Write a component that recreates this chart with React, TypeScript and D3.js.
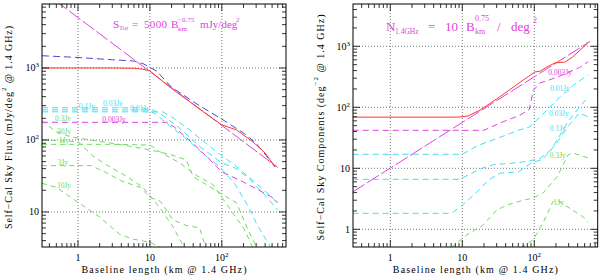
import * as d3 from "d3";

type Pt = [number, number];

// ---- left panel: self-cal sky flux (mJy/deg^2) vs baseline (km) ----
const fluxLaw: Pt[] = [[0.316, 11900], [600, 41.5]];
const fluxTotal: Pt[] = [[0.316, 1000], [3, 1000], [6, 990], [8, 960], [10, 910], [20, 520], [50, 265], [100, 162], [160, 138], [270, 94], [400, 66], [550, 42]];
const fluxBlue: Pt[] = [[0.316, 1480], [1, 1400], [3, 1300], [6, 1250], [8, 1150], [12.5, 900], [20, 540], [50, 295], [100, 195], [200, 125], [300, 90], [500, 48], [600, 38]];
const flux0003: Pt[] = [[0.316, 176], [17, 176], [22, 150], [30, 115], [50, 72], [100, 36], [200, 26], [300, 21], [500, 16], [600, 13.5]];
const flux001: Pt[] = [[0.316, 246], [15, 246], [20, 210], [35, 140], [60, 90], [100, 60], [150, 45], [200, 35], [300, 25], [500, 16], [600, 13]];
const flux003: Pt[] = [[0.316, 262], [11, 262], [15, 220], [25, 150], [50, 80], [100, 48], [160, 40], [250, 28], [400, 17], [600, 10.6]];
const flux01: Pt[] = [[0.316, 280], [8, 280], [12, 230], [20, 150], [30, 110], [60, 60], [94, 42], [150, 25], [250, 10.6], [300, 7], [480, 3.2]];
const flux03: Pt[] = [[0.316, 185], [0.5, 130], [0.8, 110], [1.5, 100], [3, 90], [6, 80], [12, 70], [20, 62], [32, 53], [40, 31], [94, 18.4], [161, 13.3], [222, 6.2], [306, 3.2]];
const flux1: Pt[] = [[0.316, 87], [3, 87], [10, 85], [15, 65], [26, 48], [45, 32], [75, 24], [142, 9.7], [200, 6], [270, 3.2]];
const flux3: Pt[] = [[0.316, 44], [1.5, 44], [2.5, 35], [4, 27], [7.3, 22], [10, 16], [14, 14], [21, 7.7], [32, 6.5], [49, 6], [60, 3.2]];
const flux10: Pt[] = [[0.316, 25], [0.5, 22], [1.07, 13], [2, 8.5], [3.8, 4.9], [5.8, 4.2], [10, 3.8], [14, 3.2]];
const flux30: Pt[] = [[0.316, 100], [1, 95], [1.6, 60], [2.5, 45], [4.8, 31], [8, 22], [13.8, 11.4], [21, 6.2], [30, 3.2]];

// ---- right panel: self-cal sky components (deg^-2) vs baseline (km) ----
const countLaw: Pt[] = [[0.3, 4.1], [600, 1210]];
const countTotal: Pt[] = [[0.3, 69], [9, 69], [12, 72], [17.6, 90], [33, 148], [70, 280], [102, 380], [120, 390], [150, 458], [194, 535], [266, 550], [342, 670], [560, 1150]];
const count0003: Pt[] = [[0.3, 42], [20, 42], [33, 55], [63, 74], [85, 92], [97, 190], [120, 250], [206, 310], [425, 450], [560, 560]];
const count001: Pt[] = [[0.3, 17], [10, 17], [17, 24], [33, 32], [60, 42], [87, 48], [150, 90], [227, 148], [350, 230], [560, 340]];
const count003: Pt[] = [[0.3, 6.6], [9, 6.6], [12, 7.7], [17, 9.6], [27, 11.5], [45, 12], [80, 13], [120, 14.5], [170, 20], [207, 29], [300, 60], [420, 100], [560, 147]];
const count01: Pt[] = [[0.3, 1.83], [7, 1.83], [9.3, 2.3], [12, 3], [17, 4.4], [23, 6.4], [33, 8.3], [60, 8.7], [90, 12.2], [130, 14], [200, 25], [300, 50], [420, 80], [560, 70]];
const count03: Pt[] = [[7, 0.5], [11.6, 0.81], [19.4, 1.17], [30, 2.07], [42, 2.5], [70, 3], [96, 3.25], [131, 3.9], [207, 7.2], [250, 11.3], [294, 16.5], [334, 18], [590, 14.5]];
const count1: Pt[] = [[65, 0.5], [96, 0.67], [131, 1.25], [181, 2.8], [210, 3], [313, 2.2], [478, 1.6], [560, 1.3]];

// label text and the data point it is centred on
const fluxLabels: [string, string, number, number][] = [
  ["0.1Jy", "cyan", 1.33, 296],
  ["0.03Jy", "cyan", 3.06, 326],
  ["0.01Jy", "cyan", 7.26, 278],
  ["0.003Jy", "mag", 3.17, 195],
  ["0.3Jy", "green", 0.62, 202],
  ["30Jy", "green", 0.64, 132],
  ["1Jy", "green", 0.64, 100],
  ["3Jy", "green", 0.62, 49],
  ["10Jy", "green", 0.64, 23.7],
];
const countLabels: [string, string, number, number][] = [
  ["0.003Jy", "mag", 228, 379],
  ["0.01Jy", "cyan", 228, 207],
  ["0.03Jy", "cyan", 219, 80.6],
  ["0.1Jy", "cyan", 212, 45.6],
  ["0.3Jy", "green", 212, 16.5],
  ["1Jy", "green", 219, 2.8],
];

const C: Record<string, string> = {
  red: "#ff3a2a",
  blue: "#4848dc",
  mag: "#e040e0",
  cyan: "#40e0f0",
  green: "#6cdc5c",
};
const FONT = "Liberation Serif, DejaVu Serif, serif";

interface Series { pts: Pt[]; color: string; dash?: string }

interface PanelProps {
  id: string;
  left: number; right: number; top: number; bottom: number;
  xDomain: [number, number]; yDomain: [number, number];
  series: Series[];
  labels: [string, string, number, number][];
  yTitle: React.ReactNode; yTitleX: number; yTitleLen: number;
}

const isMajor = (t: number) => Math.abs(Math.log10(t) - Math.round(Math.log10(t))) < 1e-6;

function powLabel(t: number) {
  const e = Math.round(Math.log10(t));
  if (e === 0) return <>1</>;
  if (e === 1) return <>10</>;
  return <>10<tspan dy={-4} fontSize={7}>{e}</tspan></>;
}

function Panel(p: PanelProps) {
  const x = d3.scaleLog().domain(p.xDomain).range([p.left, p.right]);
  const y = d3.scaleLog().domain(p.yDomain).range([p.bottom, p.top]);
  const line = d3.line<Pt>().x((d) => x(d[0])).y((d) => y(d[1]));
  const xt = x.ticks();
  const yt = y.ticks();
  const ticks: JSX.Element[] = [];
  xt.forEach((t, i) => {
    const L = isMajor(t) ? 7 : 4;
    const xx = x(t);
    ticks.push(<line key={"xb" + i} x1={xx} x2={xx} y1={p.bottom} y2={p.bottom - L} />);
    ticks.push(<line key={"xt" + i} x1={xx} x2={xx} y1={p.top} y2={p.top + L} />);
  });
  yt.forEach((t, i) => {
    const L = isMajor(t) ? 7 : 4;
    const yy = y(t);
    ticks.push(<line key={"yl" + i} y1={yy} y2={yy} x1={p.left} x2={p.left + L} />);
    ticks.push(<line key={"yr" + i} y1={yy} y2={yy} x1={p.right} x2={p.right - L} />);
  });
  const xMaj = xt.filter(isMajor);
  const yMaj = yt.filter(isMajor);
  const cx = (p.left + p.right) / 2;
  return (
    <g>
      <defs>
        <clipPath id={p.id}>
          <rect x={p.left} y={p.top} width={p.right - p.left} height={p.bottom - p.top} />
        </clipPath>
      </defs>
      <g stroke="#666" strokeWidth={0.9} strokeDasharray="1,2">
        {xMaj.map((t) => (
          <line key={"gx" + t} x1={x(t)} x2={x(t)} y1={p.top} y2={p.bottom} />
        ))}
        {yMaj.map((t) => (
          <line key={"gy" + t} y1={y(t)} y2={y(t)} x1={p.left} x2={p.right} />
        ))}
      </g>
      <g clipPath={`url(#${p.id})`} fill="none">
        {p.series.map((s, i) => (
          <path key={i} d={line(s.pts) ?? ""} stroke={s.color} strokeWidth={1} strokeDasharray={s.dash} />
        ))}
      </g>
      <g fontFamily={FONT} fontSize={7.5} textAnchor="middle">
        {p.labels.map(([txt, c, b, v], i) => (
          <text key={i} x={x(b)} y={y(v)} dy="0.35em" fill={C[c]}>{txt}</text>
        ))}
      </g>
      <rect x={p.left} y={p.top} width={p.right - p.left} height={p.bottom - p.top} fill="none" stroke="#000" strokeWidth={1} />
      <g stroke="#000" strokeWidth={0.8}>{ticks}</g>
      <g fontFamily={FONT} fontSize={10} fill="#000">
        {xMaj.map((t) => (
          <text key={"lx" + t} x={x(t)} y={261} textAnchor="middle">{powLabel(t)}</text>
        ))}
        {yMaj.map((t) => (
          <text key={"ly" + t} x={p.left - 3} y={y(t)} dy="0.35em" textAnchor="end">{powLabel(t)}</text>
        ))}
        <text x={cx} y={273} textAnchor="middle" textLength={165} lengthAdjust="spacing">
          Baseline length (km @ 1.4 GHz)
        </text>
        <text
          transform={`translate(${p.yTitleX},${(p.top + p.bottom) / 2 + 2}) rotate(-90)`}
          textAnchor="middle"
          dominantBaseline="central"
          textLength={p.yTitleLen}
          lengthAdjust="spacing"
        >
          {p.yTitle}
        </text>
      </g>
    </g>
  );
}

export default function App() {
  const fluxSeries: Series[] = [
    { pts: flux10, color: C.green, dash: "5,4" },
    { pts: flux3, color: C.green, dash: "5,4" },
    { pts: flux30, color: C.green, dash: "5,4" },
    { pts: flux1, color: C.green, dash: "5,4" },
    { pts: flux03, color: C.green, dash: "5,4" },
    { pts: flux01, color: C.cyan, dash: "6,4" },
    { pts: flux003, color: C.cyan, dash: "6,4" },
    { pts: flux001, color: C.cyan, dash: "6,4" },
    { pts: flux0003, color: C.mag, dash: "6,4" },
    { pts: fluxLaw, color: C.mag, dash: "14,3" },
    { pts: fluxBlue, color: C.blue, dash: "7,4" },
    { pts: fluxTotal, color: C.red },
  ];
  const countSeries: Series[] = [
    { pts: count1, color: C.green, dash: "5,4" },
    { pts: count03, color: C.green, dash: "5,4" },
    { pts: count01, color: C.cyan, dash: "6,4" },
    { pts: count003, color: C.cyan, dash: "6,4" },
    { pts: count001, color: C.cyan, dash: "6,4" },
    { pts: count0003, color: C.mag, dash: "6,4" },
    { pts: countLaw, color: C.mag, dash: "14,3" },
    { pts: countTotal, color: C.red },
  ];
  return (
    <svg width={600} height={278} style={{ position: "absolute", left: 0, top: 0, background: "#fff" }}>
      <Panel
        id="clipL"
        left={42} right={286} top={4} bottom={247}
        xDomain={[0.316, 780]} yDomain={[3.26, 7740]}
        series={fluxSeries}
        labels={fluxLabels}
        yTitle={<>Self−Cal Sky Flux (mJy/deg<tspan dy={-4} fontSize={7}>2</tspan><tspan dy={4}> @ 1.4 GHz)</tspan></>}
        yTitleX={8}
        yTitleLen={203}
      />
      <Panel
        id="clipR"
        left={353} right={597.7} top={4} bottom={247}
        xDomain={[0.303, 760]} yDomain={[0.513, 4935]}
        series={countSeries}
        labels={countLabels}
        yTitle={<>Self−Cal Sky Components (deg<tspan dy={-4} fontSize={7}>−2</tspan><tspan dy={4}> @ 1.4 GHz)</tspan></>}
        yTitleX={320}
        yTitleLen={226}
      />
      <g fontFamily={FONT} fill={C.mag}>
        <text x={113} y={28} fontSize={11}>S</text>
        <text x={119} y={30} fontSize={7}>Tot</text>
        <text x={132} y={28} fontSize={11}>=</text>
        <text x={144} y={28} fontSize={11} textLength={23} lengthAdjust="spacing">5000</text>
        <text x={171} y={28} fontSize={11}>B</text>
        <text x={178} y={22} fontSize={7}>−0.75</text>
        <text x={178} y={31} fontSize={7}>km</text>
        <text x={200} y={28} fontSize={11}>mJy/deg</text>
        <text x={236} y={22} fontSize={7}>2</text>

        <text x={386} y={31} fontSize={13}>N</text>
        <text x={395} y={34} fontSize={7.5}>1.4GHz</text>
        <text x={428} y={31} fontSize={13}>=</text>
        <text x={445} y={31} fontSize={13}>10</text>
        <text x={466} y={31} fontSize={13}>B</text>
        <text x={475} y={21} fontSize={8}>0.75</text>
        <text x={475} y={34} fontSize={8}>km</text>
        <text x={497} y={31} fontSize={13}>/</text>
        <text x={511} y={31} fontSize={13}>deg</text>
        <text x={533} y={23} fontSize={8}>2</text>
      </g>
    </svg>
  );
}
